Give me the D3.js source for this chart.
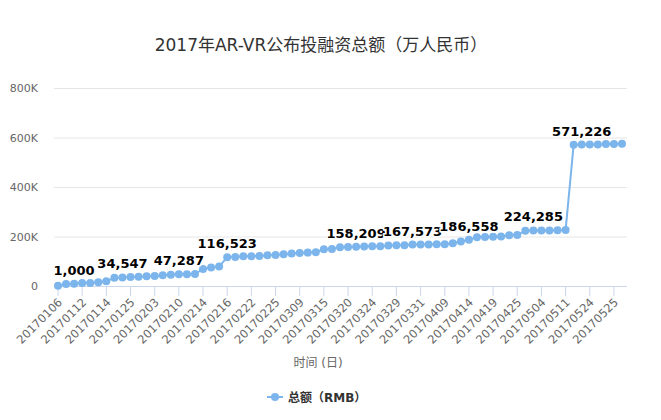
<!DOCTYPE html>
<html>
<head>
<meta charset="utf-8">
<script src="https://cdn.jsdelivr.net/npm/d3@7"></script>
<style>
  body { margin: 0; background: #fff; }
  text { font-family: "DejaVu Sans", "Noto Sans CJK SC", sans-serif; }
</style>
</head>
<body>
<div id="container"></div>
<script>
const w = 661,
    h = 420;

// data
const values = [1000, 8100, 9450, 12150, 12150, 14850, 18900, 33750, 34547, 36450,
    37800, 39150, 40500, 43200, 45900, 47287, 47800, 48300, 68850, 74250,
    78300, 116523, 117000, 120150, 120500, 121500, 124200, 125550, 128250, 130950,
    133650, 135000, 136350, 148500, 149850, 156600, 157950, 158209, 159300, 160650,
    161000, 163350, 164700, 165000, 167573, 167800, 168000, 168200, 168750, 172800,
    179550, 186558, 197100, 198450, 198800, 199800, 205200, 206550, 222750, 224285,
    224500, 224700, 225000, 226000, 571050, 571226, 571500, 572000, 573750, 574000, 574500];
const tickLabels = ["20170106", "20170112", "20170114", "20170125", "20170203", "20170210",
    "20170214", "20170216", "20170222", "20170225", "20170309", "20170315",
    "20170320", "20170324", "20170329", "20170331", "20170409", "20170414",
    "20170419", "20170425", "20170504", "20170511", "20170524", "20170525"];
const labelIndex = [2, 8, 15, 21, 37, 44, 51, 59, 65];
const labelText = ["1,000", "34,547", "47,287", "116,523", "158,209", "167,573", "186,558", "224,285", "571,226"];
const yTicks = [0, 200000, 400000, 600000, 800000];

var svg = d3.select("div#container")
    .append("svg")
    .attr("width", w)
    .attr("height", h);

var x = d3.scaleLinear().domain([0, values.length - 1]).range([58, 622]);
var y = d3.scaleLinear().domain([0, 800000]).range([286, 88]);

// title
svg.append("text")
    .attr("x", 321).attr("y", 51)
    .attr("text-anchor", "middle")
    .style("font-size", "17px")
    .style("fill", "#333")
    .text("2017年AR-VR公布投融资总额（万人民币）");

// grid + y labels
svg.append("g").selectAll("line")
    .data(yTicks.slice(1))
    .enter().append("line")
    .attr("x1", 54).attr("x2", 627)
    .attr("y1", d => y(d) + 0.5).attr("y2", d => y(d) + 0.5)
    .style("stroke", "#e6e6e6");
svg.append("g").selectAll("text")
    .data(yTicks)
    .enter().append("text")
    .attr("x", 38).attr("y", d => y(d) + 4)
    .attr("text-anchor", "end")
    .style("font-size", "11px")
    .style("fill", "#666")
    .text(d => d === 0 ? "0" : (d / 1000) + "K");

// x axis
svg.append("line")
    .attr("x1", 54).attr("x2", 627)
    .attr("y1", 286.5).attr("y2", 286.5)
    .style("stroke", "#ccd6eb");
var ticks = svg.append("g").selectAll("g")
    .data(tickLabels)
    .enter().append("g")
    .attr("transform", (d, i) => "translate(" + x(i * 3) + ",286)");
ticks.append("line")
    .attr("y1", 0).attr("y2", 10)
    .style("stroke", "#ccd6eb");
ticks.append("text")
    .attr("transform", "translate(5,17) rotate(-45)")
    .attr("text-anchor", "end")
    .style("font-size", "11.5px")
    .style("fill", "#666")
    .text(d => d);

svg.append("text")
    .attr("x", 318).attr("y", 367)
    .attr("text-anchor", "middle")
    .style("font-size", "12px")
    .style("fill", "#666")
    .text("时间 (日)");

// line + points
svg.append("path")
    .datum(values)
    .attr("fill", "none")
    .attr("stroke", "#7cb5ec")
    .attr("stroke-width", 2)
    .attr("d", d3.line().x((d, i) => x(i)).y(d => y(d)));
svg.append("g").selectAll("circle")
    .data(values)
    .enter().append("circle")
    .attr("cx", (d, i) => x(i))
    .attr("cy", d => y(d))
    .attr("r", 4)
    .style("fill", "#7cb5ec");

// data labels
svg.append("g").selectAll("text")
    .data(labelIndex)
    .enter().append("text")
    .attr("x", d => x(d))
    .attr("y", d => y(values[d]) - 9)
    .attr("text-anchor", "middle")
    .style("font-size", "13px")
    .style("font-weight", "bold")
    .style("fill", "#000")
    .style("stroke", "#fff")
    .style("stroke-width", 3)
    .style("paint-order", "stroke")
    .text((d, i) => labelText[i]);

// legend
var legend = svg.append("g").attr("transform", "translate(267,397)");
legend.append("line")
    .attr("x1", 0).attr("x2", 16)
    .style("stroke", "#7cb5ec").style("stroke-width", 2);
legend.append("circle")
    .attr("cx", 8).attr("r", 4).style("fill", "#7cb5ec");
legend.append("text")
    .attr("x", 21).attr("y", 5)
    .style("font-size", "12px")
    .style("font-weight", "bold")
    .style("fill", "#333")
    .text("总额（RMB）");
</script>
</body>
</html>
